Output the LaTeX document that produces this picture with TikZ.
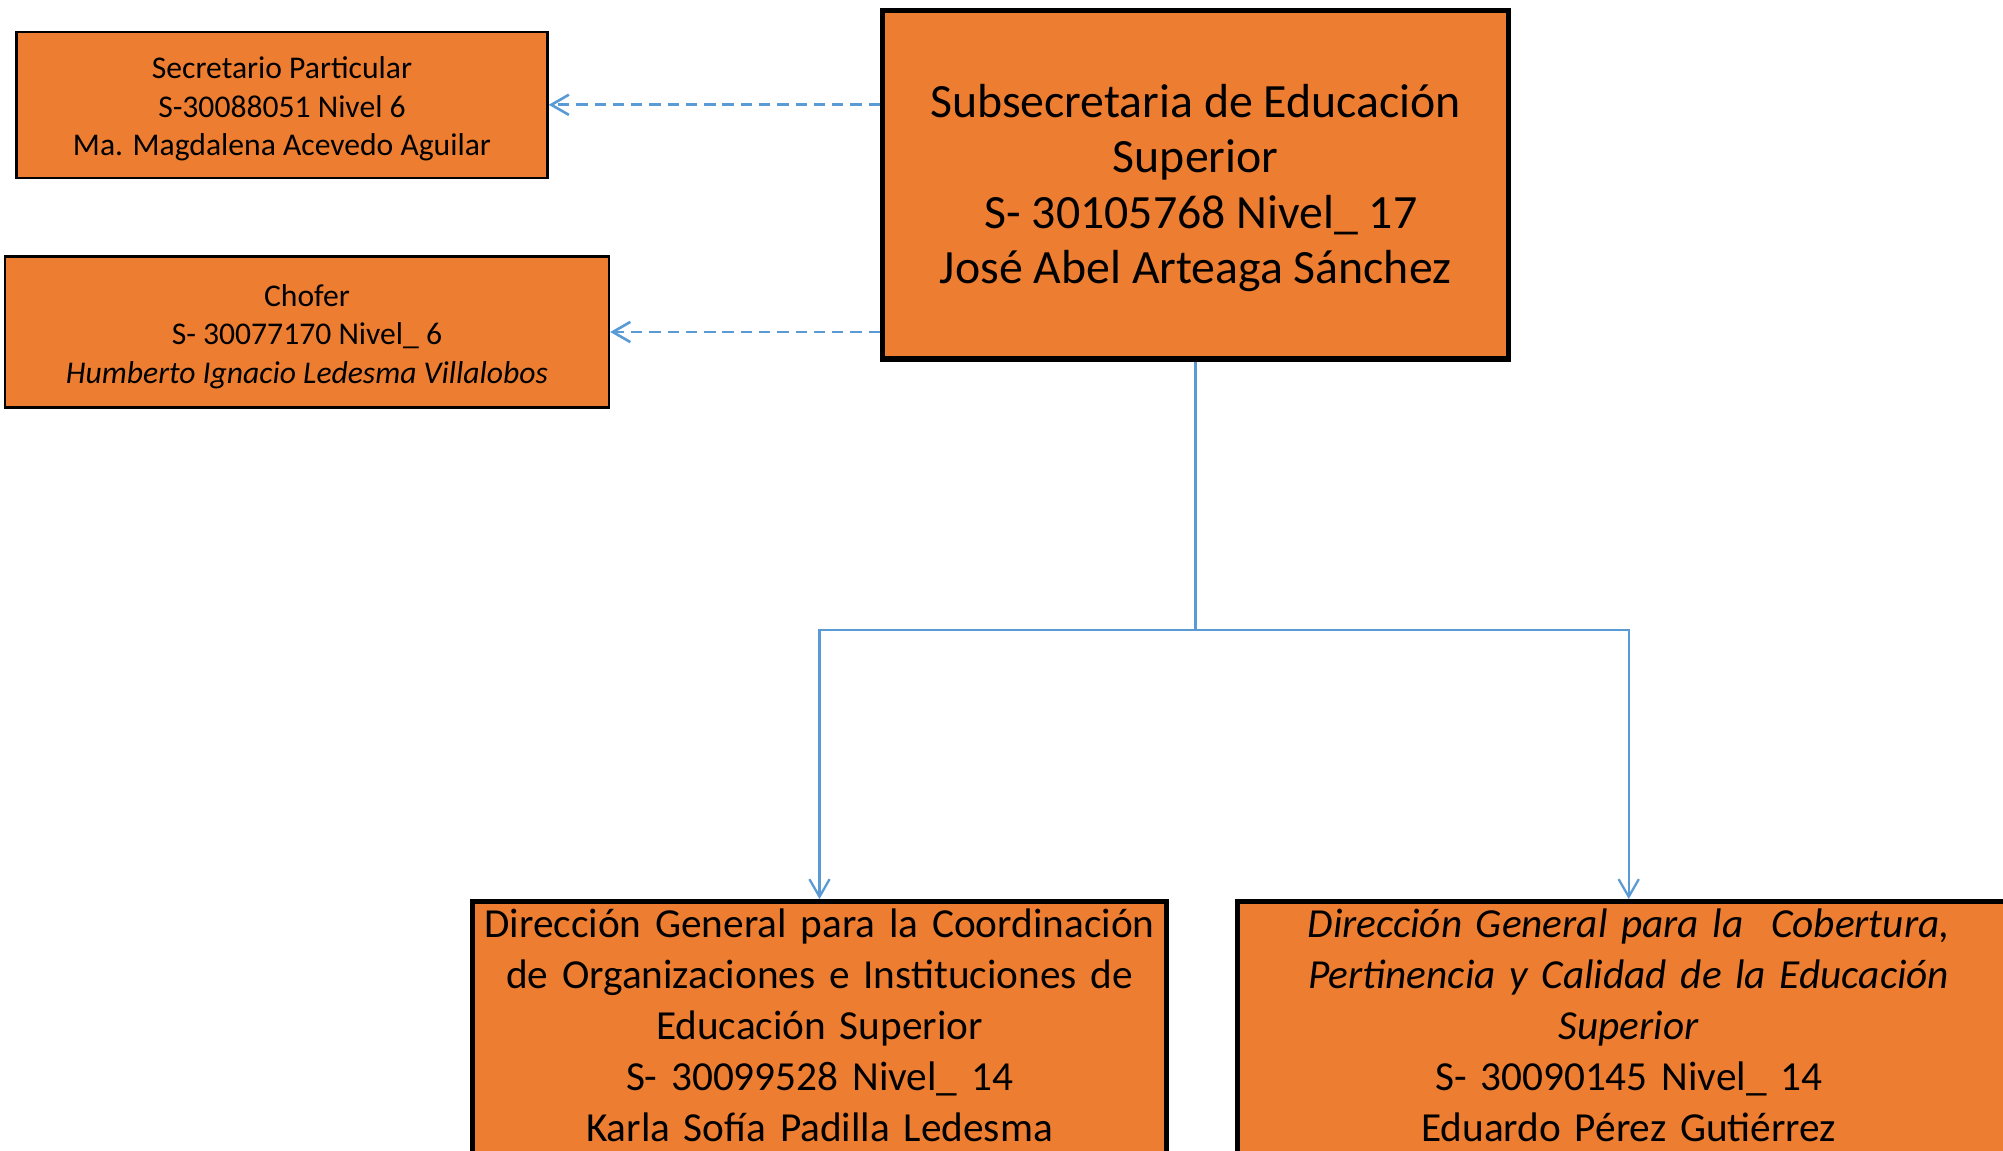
\documentclass[tikz,border=0pt]{standalone}
\usepackage{fontspec}
\setmainfont{Carlito}
\usetikzlibrary{arrows.meta}
\definecolor{boxorange}{HTML}{ED7D31}
\definecolor{linkblue}{HTML}{5B9BD5}

\begin{document}
\begin{tikzpicture}[
        x=0.02cm, y=-0.02cm,
        small/.style = {draw, line width=1.4pt, fill=boxorange, align=center, inner sep=0pt, font=\fontsize{18}{22}\selectfont},
        head/.style = {draw, line width=3pt, fill=boxorange, align=center, inner sep=0pt, font=\fontsize{27.2}{31.5}\selectfont},
        dir/.style = {draw, line width=3pt, fill=boxorange, align=center, anchor=north, inner xsep=0pt, inner ysep=4pt, font=\fontsize{23.5}{29}\selectfont},
        dep/.style = {draw, linkblue, line width=1.5pt, dash pattern=on 6.5pt off 3.9pt, -{Straight Barb[length=10pt,width=11.5pt]}},
        arr/.style = {draw, linkblue, line width=1.3pt, -{Straight Barb[length=10pt,width=11.5pt]}},
    ]
    \clip (0,0) rectangle (2003,1150);

    \node (sub) [head, minimum width=12.52cm, minimum height=6.98cm] at (1195.6,184.6)
        {\rule{0pt}{24.5pt}Subsecretaria de Educación\\Superior\\\hspace*{0.226em}S- 30105768 Nivel\_ 17\\José Abel Arteaga Sánchez\rule[-6.5pt]{0pt}{0pt}};

    \node (sec) [small, minimum width=10.62cm, minimum height=2.92cm] at (282,104.8)
        {\rule{0pt}{18pt}Secretario Particular\\S-30088051 Nivel 6\\Ma. Magdalena Acevedo Aguilar\rule[-4pt]{0pt}{0pt}};
    \node (chof) [small, minimum width=12.08cm, minimum height=3.02cm] at (307,332)
        {\rule{0pt}{18.4pt}Chofer\\S- 30077170 Nivel\_ 6\\\textit{Humberto Ignacio Ledesma Villalobos}\rule[-4pt]{0pt}{0pt}};

    \node (dgc) [dir, text width=13.88cm] at (819.5,899)
        {Dirección General para la Coordinación\\de Organizaciones e Instituciones de\\Educación Superior\\S- 30099528 Nivel\_ 14\\Karla Sofía Padilla Ledesma\rule[-40pt]{0pt}{0pt}};
    \node (dgp) [dir, text width=15.64cm] at (1628.7,899)
        {\textit{Dirección General para la\ \ Cobertura,}\\\textit{Pertinencia y Calidad de la Educación}\\\textit{Superior}\\S- 30090145 Nivel\_ 14\\Eduardo Pérez Gutiérrez\rule[-40pt]{0pt}{0pt}};

    \coordinate (fork) at (1195.6,629.8);

    \path[dep] (sub.west |- sec.east) -- (sec.east);
    \path[dep] (sub.west |- chof.east) -- (chof.east);

    \path[draw, linkblue, line width=1.3pt] (sub.south) -- (fork);
    \path[arr] (fork) -| (dgc.north);
    \path[arr] (fork) -| (dgp.north);
\end{tikzpicture}
\end{document}
